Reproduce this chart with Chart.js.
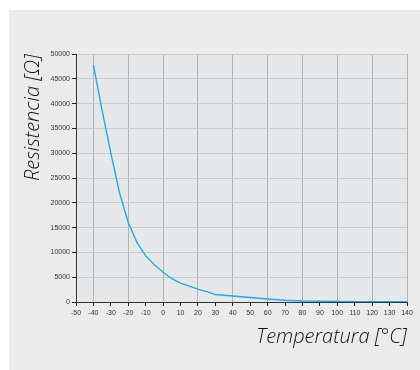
<!DOCTYPE html>
<html>
<head>
<meta charset="utf-8">
<script src="https://cdn.jsdelivr.net/npm/chart.js@4"></script>
<style>
  html, body { margin: 0; padding: 0; background: #fff; }
  #panel { position: absolute; left: 9px; top: 10px; width: 411px; height: 360px; background: #ebebeb; }
  #chart { position: absolute; left: 0; top: 0; }
</style>
</head>
<body>
<div id="panel"></div>
<canvas id="chart" width="420" height="370"></canvas>
<script>
// temperatura (°C) y resistencia (Ω)
const temperatures = [-40, -35, -30, -25, -20, -15, -10, -5, 0, 5, 10, 15, 20, 25, 30, 40, 50, 60, 70, 80, 90, 100, 110, 120, 130, 140];
const resistances = [47800, 38600, 30000, 22000, 16000, 12000, 9300, 7500, 6000, 4700, 3800, 3200, 2600, 2100, 1500, 1200, 900, 600, 350, 200, 150, 130, 80, 60, 50, 40];

const xMin = -50, xMax = 140, xStep = 10;
const yMin = 0, yMax = 50000, yStep = 5000;

const plotBg = {
  id: 'plotBg',
  beforeDraw(chart) {
    const { ctx, chartArea: a } = chart;
    ctx.save();
    ctx.fillStyle = '#e6e7e9';
    ctx.fillRect(a.left, a.top, a.right - a.left, a.bottom - a.top);
    ctx.restore();
  }
};

const tickFont = { family: '"Liberation Sans", Arial, sans-serif', size: 7 };
const titleFont = { family: '"Open Sans", sans-serif', size: 20, style: 'italic', weight: 300 };
const plain = v => String(v);

new Chart(document.getElementById('chart'), {
  type: 'line',
  data: {
    datasets: [{
      data: temperatures.map((t, i) => ({ x: t, y: resistances[i] })),
      borderColor: '#1aaee8',
      borderWidth: 1.4,
      pointRadius: 0,
      tension: 0,
      fill: false
    }]
  },
  options: {
    responsive: false,
    animation: false,
    layout: { padding: { top: 54, right: 13, bottom: 21, left: 0 } },
    plugins: { legend: { display: false }, tooltip: { enabled: false } },
    scales: {
      x: {
        type: 'linear',
        min: xMin,
        max: xMax,
        afterFit: s => { s.height = 47; },
        ticks: { stepSize: xStep, color: '#333', font: tickFont, padding: 3, maxRotation: 0, autoSkip: false, callback: plain },
        grid: {
          color: c => (c.tick && c.tick.value % 20 === 0) ? '#b2b3b5' : 'rgba(0,0,0,0)',
          tickColor: '#222',
          tickLength: 4,
          lineWidth: 1
        },
        border: { color: '#333', width: 1 },
        title: {
          display: true,
          text: 'Temperatura [°C]',
          align: 'end',
          color: '#111',
          font: titleFont,
          padding: { top: 0, bottom: 0 }
        }
      },
      y: {
        min: yMin,
        max: yMax,
        afterFit: s => { s.width = 76; },
        ticks: { stepSize: yStep, color: '#333', font: tickFont, padding: 2, callback: plain },
        grid: {
          color: '#c8c9cb',
          tickColor: '#222',
          tickLength: 4,
          lineWidth: 1
        },
        border: { color: '#333', width: 1 },
        title: {
          display: true,
          text: 'Resistencia [Ω]',
          align: 'end',
          color: '#111',
          font: titleFont,
          padding: { top: 21, bottom: 0 }
        }
      }
    }
  },
  plugins: [plotBg]
});
</script>
</body>
</html>
